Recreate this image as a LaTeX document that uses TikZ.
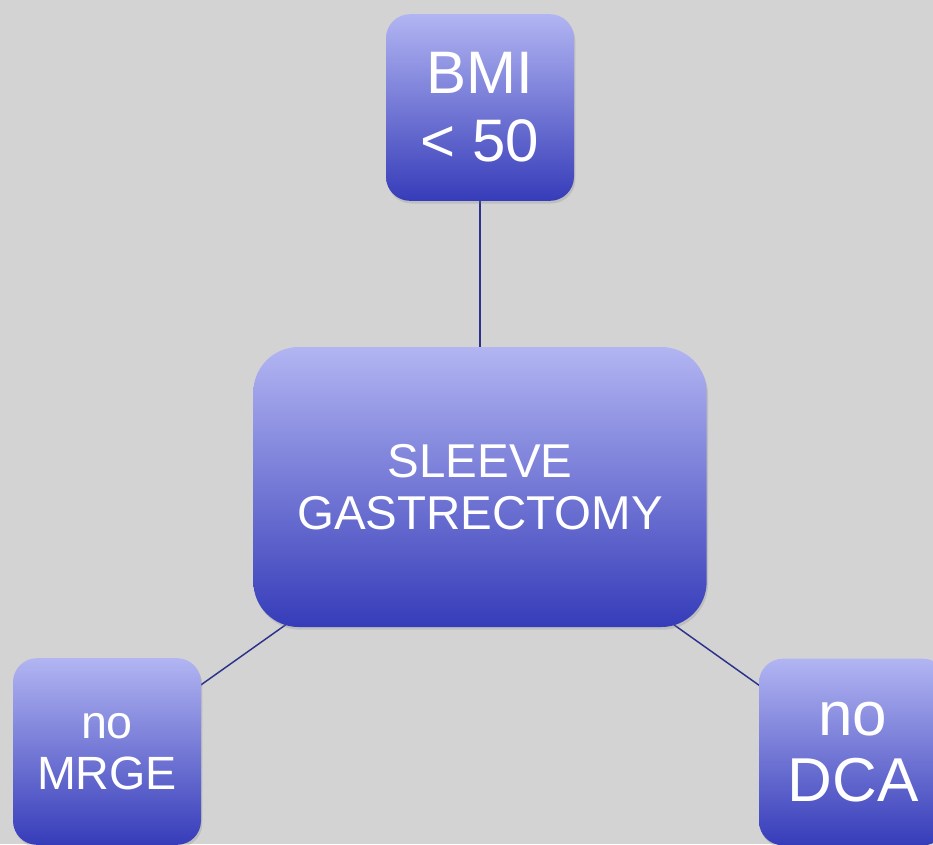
\documentclass[tikz,border=0pt]{standalone}
\usepackage{fontspec}
\setmainfont{Liberation Sans}
\usetikzlibrary{shadows}
\definecolor{boxtop}{RGB}{178,181,242}
\definecolor{boxbottom}{RGB}{54,60,185}
\definecolor{linknavy}{RGB}{44,50,138}
\definecolor{slidegray}{RGB}{211,211,211}
\pgfdeclarelayer{background}
\pgfsetlayers{background,main}
\tikzset{
  stepbox/.style={rounded corners=18pt, top color=boxtop, bottom color=boxbottom, draw=none, text=white, align=center, inner sep=0pt, minimum width=141pt, minimum height=140pt, drop shadow={opacity=0.25, shadow xshift=1pt, shadow yshift=-2pt}},
  link/.style={draw=linknavy, line width=1.1pt},
}
\begin{document}
\begin{tikzpicture}[x=0.75pt,y=0.75pt,yscale=-1,xscale=1]
\useasboundingbox (0,0) rectangle (933,844);

% Text Node
\draw (480,107.5) node [stepbox, font=\fontsize{45}{51}\selectfont] (bmi) {BMI\\< 50};
% Text Node
\draw (480,487) node [stepbox, rounded corners=34pt, minimum width=340pt, minimum height=210pt, font=\fontsize{35.6}{38.5}\selectfont] (sleeve) {SLEEVE\\GASTRECTOMY};
% Text Node
\draw (107,751.5) node [stepbox, font=\fontsize{35}{38.5}\selectfont] (mrge) {no\\MRGE};
% Text Node
\draw (853,752) node [stepbox, font=\fontsize{46.5}{50}\selectfont] (dca) {no\\DCA};

\begin{pgfonlayer}{background}
\fill[slidegray] (0,0) rectangle (933,844);
% Connection
\draw [link] (bmi.center) -- (sleeve.center) ;
% Connection
\draw [link] (sleeve.center) -- (mrge.center) ;
% Connection
\draw [link] (sleeve.center) -- (dca.center) ;
\end{pgfonlayer}

\end{tikzpicture}
\end{document}
